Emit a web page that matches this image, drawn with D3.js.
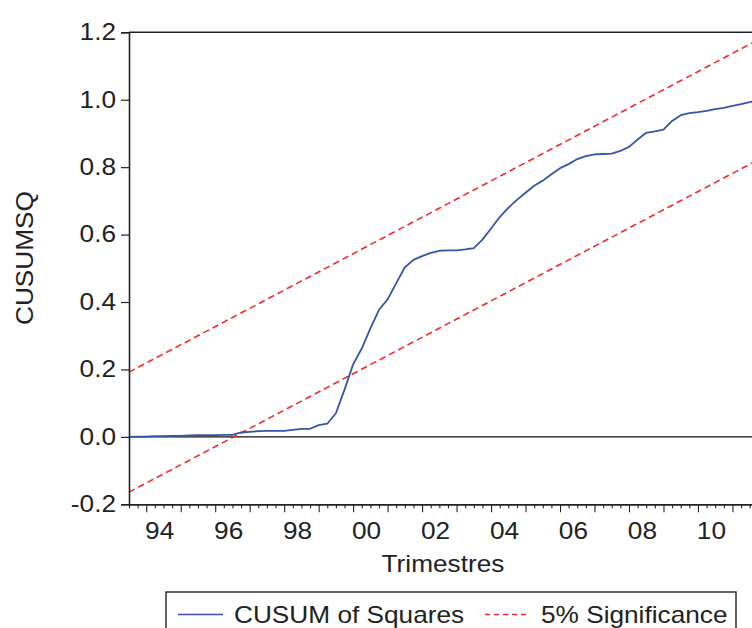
<!DOCTYPE html>
<html>
<head>
<meta charset="utf-8">
<script src="https://cdn.jsdelivr.net/npm/d3@7/dist/d3.min.js"></script>
<style>
  html, body { margin: 0; padding: 0; background: #fff; }
  svg { display: block; }
  text { font-family: "Liberation Sans", Arial, sans-serif; fill: #222; }
</style>
</head>
<body>
<svg id="chart" width="752" height="628"></svg>
<script>
// Quarterly CUSUM of squares, 1993Q3 - 2011Q4
const startPeriod = 1993.5;          // 1993Q3 expressed in years
const quarterStep = 0.25;
const cusumSq = [
  0.000, 0.001, 0.001, 0.002, 0.002, 0.003, 0.003, 0.004, 0.005, 0.005,
  0.005, 0.006, 0.006, 0.013, 0.015, 0.017, 0.018, 0.018, 0.018, 0.021,
  0.024, 0.024, 0.035, 0.039, 0.070, 0.140, 0.215, 0.262, 0.322, 0.377,
  0.408, 0.456, 0.503, 0.525, 0.536, 0.546, 0.552, 0.553, 0.553, 0.556,
  0.560, 0.585, 0.618, 0.652, 0.679, 0.703, 0.724, 0.745, 0.760, 0.779,
  0.797, 0.809, 0.824, 0.833, 0.838, 0.839, 0.840, 0.848, 0.860, 0.882,
  0.902, 0.906, 0.911, 0.937, 0.954, 0.960, 0.963, 0.967, 0.972, 0.976,
  0.982, 0.987, 0.993, 1.000
];
// 5% significance bounds at the first and last observation
const upperBound = [0.192, 1.178];
const lowerBound = [-0.164, 0.822];

const yTicks = [-0.2, 0.0, 0.2, 0.4, 0.6, 0.8, 1.0, 1.2];
const yearTicks = [1994, 1996, 1998, 2000, 2002, 2004, 2006, 2008, 2010];
const yearLabels = ["94", "96", "98", "00", "02", "04", "06", "08", "10"];
const legendLabels = ["CUSUM of Squares", "5% Significance"];

const blue = "#3655a8";
const red = "#f22a2a";
const ink = "#222";
const fontSize = "23px";
const widen = 1.14;   // horizontal widening of the lettering

const svg = d3.select("#chart");

// widen a text element along its baseline, keeping its anchor point fixed
function stretch(sel) {
  sel.each(function () {
    const t = d3.select(this);
    const ax = +t.attr("x") || 0;
    t.attr("transform", `translate(${ax},0) scale(${widen},1) translate(${-ax},0)`);
  });
}

const lastPeriod = startPeriod + (cusumSq.length - 1) * quarterStep;
const x = d3.scaleLinear().domain([startPeriod, lastPeriod]).range([129, 758.3]);
const y = d3.scaleLinear().domain([-0.2, 1.2]).range([504.3, 32.3]);

const plotLeft = x.range()[0], plotRight = x.range()[1];
const plotTop = y(1.2), plotBottom = y(-0.2);

const periods = cusumSq.map((_, i) => startPeriod + i * quarterStep);

// zero reference line
svg.append("line")
  .attr("x1", plotLeft).attr("x2", plotRight)
  .attr("y1", y(0)).attr("y2", y(0))
  .attr("stroke", "#111").attr("stroke-width", 1.2);

// significance bounds
const boundLine = d3.line().x(d => x(d[0])).y(d => y(d[1]));
[upperBound, lowerBound].forEach(b => {
  svg.append("path")
    .datum([[startPeriod, b[0]], [lastPeriod, b[1]]])
    .attr("d", boundLine)
    .attr("fill", "none")
    .attr("stroke", red)
    .attr("stroke-width", 1.6)
    .attr("stroke-dasharray", "6.5,4");
});

// CUSUM of squares
svg.append("path")
  .datum(cusumSq.map((v, i) => [periods[i], v]))
  .attr("d", d3.line().x(d => x(d[0])).y(d => y(d[1])))
  .attr("fill", "none")
  .attr("stroke", blue)
  .attr("stroke-width", 1.8)
  .attr("stroke-linejoin", "round");

// frame: top border
svg.append("line")
  .attr("x1", plotLeft).attr("x2", plotRight + 10)
  .attr("y1", plotTop).attr("y2", plotTop)
  .attr("stroke", ink).attr("stroke-width", 1.6);

// y axis
const yAxis = d3.axisLeft(y)
  .tickValues(yTicks)
  .tickSize(8)
  .tickPadding(5)
  .tickFormat(d => d3.format(".1f")(d).replace("\u2212", "-"));
const gy = svg.append("g").attr("transform", `translate(${plotLeft},0)`).call(yAxis);
gy.select(".domain").attr("stroke", ink).attr("stroke-width", 1.6);
gy.selectAll(".tick line").attr("stroke", ink).attr("stroke-width", 1.2);
gy.selectAll("text").style("font-size", fontSize).attr("fill", ink).call(stretch);

// x axis: quarterly minor ticks, yearly major ticks
const quarterTicks = periods.filter(p => Math.abs(p - Math.round(p)) > 1e-6);
const yearStarts = periods.filter(p => Math.abs(p - Math.round(p)) < 1e-6);

const gxMinor = svg.append("g").attr("transform", `translate(0,${plotBottom})`)
  .call(d3.axisBottom(x).tickValues(quarterTicks).tickSize(4).tickSizeOuter(0).tickFormat(""));
const gxMajor = svg.append("g").attr("transform", `translate(0,${plotBottom})`)
  .call(d3.axisBottom(x).tickValues(yearStarts).tickSize(8).tickSizeOuter(0).tickFormat(""));
[gxMinor, gxMajor].forEach(g => {
  g.select(".domain").attr("stroke", ink).attr("stroke-width", 1.6);
  g.selectAll(".tick line").attr("stroke", ink).attr("stroke-width", 1.1);
});

// year labels centred on the four quarters of each year
const labelAxis = d3.axisBottom(x)
  .tickValues(yearTicks.map(yr => yr + 0.375))
  .tickSize(0)
  .tickPadding(18)
  .tickFormat((d, i) => yearLabels[i]);
const gxl = svg.append("g").attr("transform", `translate(0,${plotBottom})`).call(labelAxis);
gxl.select(".domain").remove();
gxl.selectAll("text").style("font-size", fontSize).attr("fill", ink).call(stretch);

// axis titles
svg.append("text")
  .attr("x", 443).attr("y", 572)
  .attr("text-anchor", "middle")
  .style("font-size", fontSize)
  .text("Trimestres")
  .call(stretch);

svg.append("g")
  .attr("transform", "translate(33,258) rotate(-90)")
  .append("text")
  .attr("x", 0).attr("y", 0)
  .attr("text-anchor", "middle")
  .style("font-size", fontSize)
  .text("CUSUMSQ")
  .call(stretch);

// legend
const legend = svg.append("g");
legend.append("rect")
  .attr("x", 166).attr("y", 592).attr("width", 570).attr("height", 60)
  .attr("fill", "none").attr("stroke", ink).attr("stroke-width", 1.4);
legend.append("line")
  .attr("x1", 178).attr("x2", 223).attr("y1", 614.5).attr("y2", 614.5)
  .attr("stroke", blue).attr("stroke-width", 1.6);
legend.append("text")
  .attr("x", 234).attr("y", 623)
  .style("font-size", fontSize)
  .text(legendLabels[0])
  .call(stretch);
legend.append("line")
  .attr("x1", 485).attr("x2", 530).attr("y1", 614.5).attr("y2", 614.5)
  .attr("stroke", red).attr("stroke-width", 1.4)
  .attr("stroke-dasharray", "5,4");
legend.append("text")
  .attr("x", 541).attr("y", 623)
  .style("font-size", fontSize)
  .text(legendLabels[1])
  .call(stretch);
</script>
</body>
</html>
